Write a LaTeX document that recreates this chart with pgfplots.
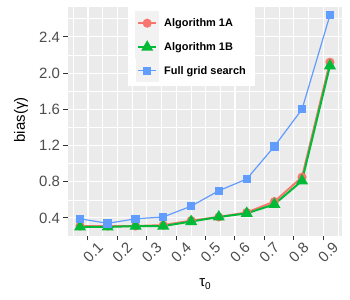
\documentclass[border=0pt]{standalone}
\usepackage{pgfplots}
\pgfplotsset{compat=1.18}
\usepackage{fontspec}
\setmainfont{Liberation Sans}
\definecolor{ggred}{HTML}{F8766D}
\definecolor{gggreen}{HTML}{00BA38}
\definecolor{ggblue}{HTML}{619CFF}
\definecolor{ggpanel}{HTML}{EBEBEB}
\definecolor{ggkey}{HTML}{F2F2F2}
\definecolor{gray30}{HTML}{4D4D4D}
\definecolor{gray20}{HTML}{333333}
\begin{document}
\begin{tikzpicture}
\useasboundingbox (0,0) rectangle (350bp,300bp);
\begin{axis}[
  at={(68bp,64bp)}, anchor=south west,
  scale only axis, width=274bp, height=229bp,
  xmin=0.032, xmax=0.964, ymin=0.2, ymax=2.73,
  axis background/.style={fill=ggpanel},
  axis line style={draw=none},
  xtick={0.1,0.2,0.3,0.4,0.5,0.6,0.7,0.8,0.9},
  minor xtick={0.05,0.15,0.25,0.35,0.45,0.55,0.65,0.75,0.85,0.95},
  ytick={0.4,0.8,1.2,1.6,2.0,2.4},
  minor ytick={0.2,0.6,1.0,1.4,1.8,2.2,2.6},
  grid=both,
  major grid style={white, line width=1.1bp},
  minor grid style={white, line width=0.55bp},
  tick align=outside, major tick length=4.5bp, minor tick length=0pt,
  tick pos=left,
  major tick style={gray20, line width=1bp},
  /pgf/number format/assume math mode=true,
  xticklabel={\pgfmathprintnumber[fixed,fixed zerofill,precision=1]{\tick}},
  yticklabel={\pgfmathprintnumber[fixed,fixed zerofill,precision=1]{\tick}},
  ticklabel style={font=\fontsize{15}{15}\selectfont, text=gray30},
  xticklabel style={xshift=5bp, yshift=-12bp, rotate=45, anchor=center},
  xlabel={τ\raisebox{-0.35ex}{\fontsize{10}{10}\selectfont 0}},
  xlabel style={at={(axis description cs:0.5,-0.2096)}, anchor=center, font=\fontsize{15}{15}\selectfont},
  ylabel={bias(γ)},
  ylabel style={at={(axis description cs:-0.1715,0.507)}, anchor=center, font=\fontsize{15}{15}\selectfont},
  legend style={at={(axis description cs:0.219,1.0)}, anchor=north west, fill=white, draw=none,
    inner xsep=7bp, inner ysep=4bp, font=\bfseries\fontsize{11}{11}\selectfont,
    row sep=0pt, column sep=3bp},
  legend cell align=left,
  legend image code/.code={\fill[ggkey] (0bp,-11bp) rectangle (22bp,11bp);
    \draw[mark repeat=2,mark phase=2,#1] plot coordinates {(2bp,0bp) (11bp,0bp) (20bp,0bp)};},
]
\addplot[ggred, line width=2bp, mark=*, mark size=3.5bp, mark options={solid}] coordinates {
(0.073,0.31) (0.167,0.31) (0.262,0.31) (0.356,0.32) (0.451,0.37) (0.545,0.41) (0.640,0.46) (0.734,0.58) (0.828,0.85) (0.923,2.12)};
\addlegendentry{Algorithm 1A}
\addplot[gggreen, line width=2bp, mark=triangle*, mark size=5bp, mark options={solid}] coordinates {
(0.073,0.30) (0.167,0.30) (0.262,0.31) (0.356,0.31) (0.451,0.36) (0.545,0.41) (0.640,0.45) (0.734,0.55) (0.828,0.81) (0.923,2.08)};
\addlegendentry{Algorithm 1B}
\addplot[ggblue, line width=1.2bp, mark=square*, mark size=3.6bp, mark options={solid}] coordinates {
(0.073,0.39) (0.167,0.34) (0.262,0.39) (0.356,0.41) (0.451,0.53) (0.545,0.70) (0.640,0.83) (0.734,1.19) (0.828,1.60) (0.923,2.64)};
\addlegendentry{Full grid search}
\end{axis}
\end{tikzpicture}
\end{document}
